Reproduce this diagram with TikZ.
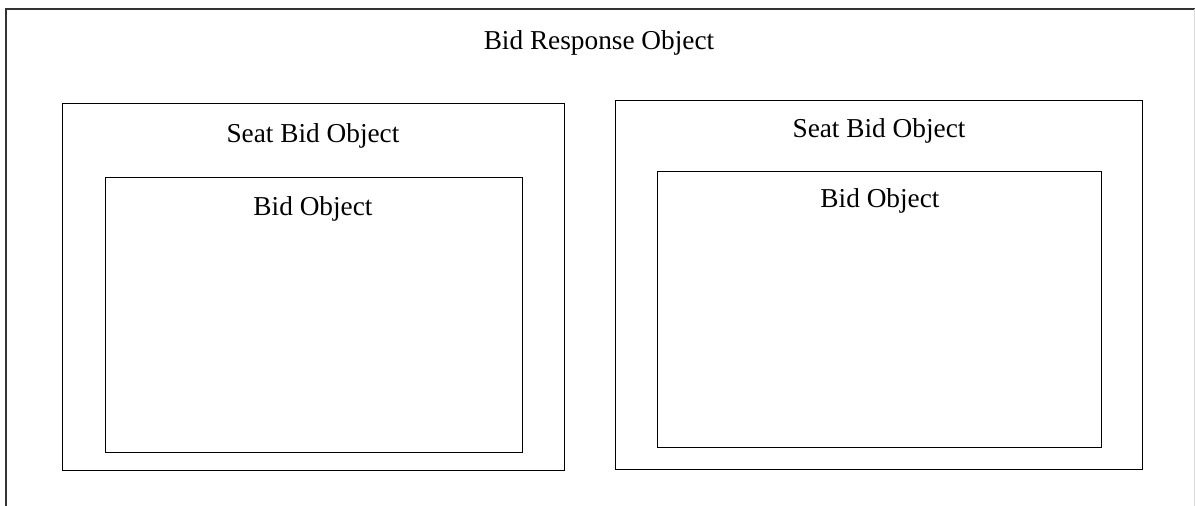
\documentclass[tikz,border=0pt]{standalone}
\usepackage{fontspec}
\setmainfont{Liberation Serif}
\begin{document}
\begin{tikzpicture}[x=1pt,y=-1pt,
  box/.style={draw=black, line width=1pt, rectangle, inner sep=0pt, anchor=north west},
  lbl/.style={font=\fontsize{27.3}{31}\selectfont, text=black, inner sep=0pt}]
\useasboundingbox (0,0) rectangle (1195,506);
% outer Bid Response Object (open at bottom)
\coordinate (obl) at (6,506);
\coordinate (otl) at (6,9);
\coordinate (otr) at (1194.5,9);
\coordinate (obr) at (1194.5,506);
\draw[line width=1.3pt, draw=black!80] (obl) -- (otl) -- (otr);
\draw[line width=1pt, draw=black!15] (otr) -- (obr);
\node[lbl] (resp) at (599,42.5) {Bid Response Object};
% left seat bid
\node[box, minimum width=502pt, minimum height=367pt] (seatL) at (62,103) {};
\node[lbl] (seatLt) at (313,135.5) {Seat Bid Object};
\node[box, minimum width=417pt, minimum height=275pt] (bidL) at (105,177) {};
\node[lbl] (bidLt) at (313,208.5) {Bid Object};
% right seat bid
\node[box, minimum width=527pt, minimum height=369pt] (seatR) at (615,100) {};
\node[lbl] (seatRt) at (879,130.5) {Seat Bid Object};
\node[box, minimum width=444pt, minimum height=276pt] (bidR) at (657,171) {};
\node[lbl] (bidRt) at (880,200.5) {Bid Object};
\end{tikzpicture}
\end{document}
